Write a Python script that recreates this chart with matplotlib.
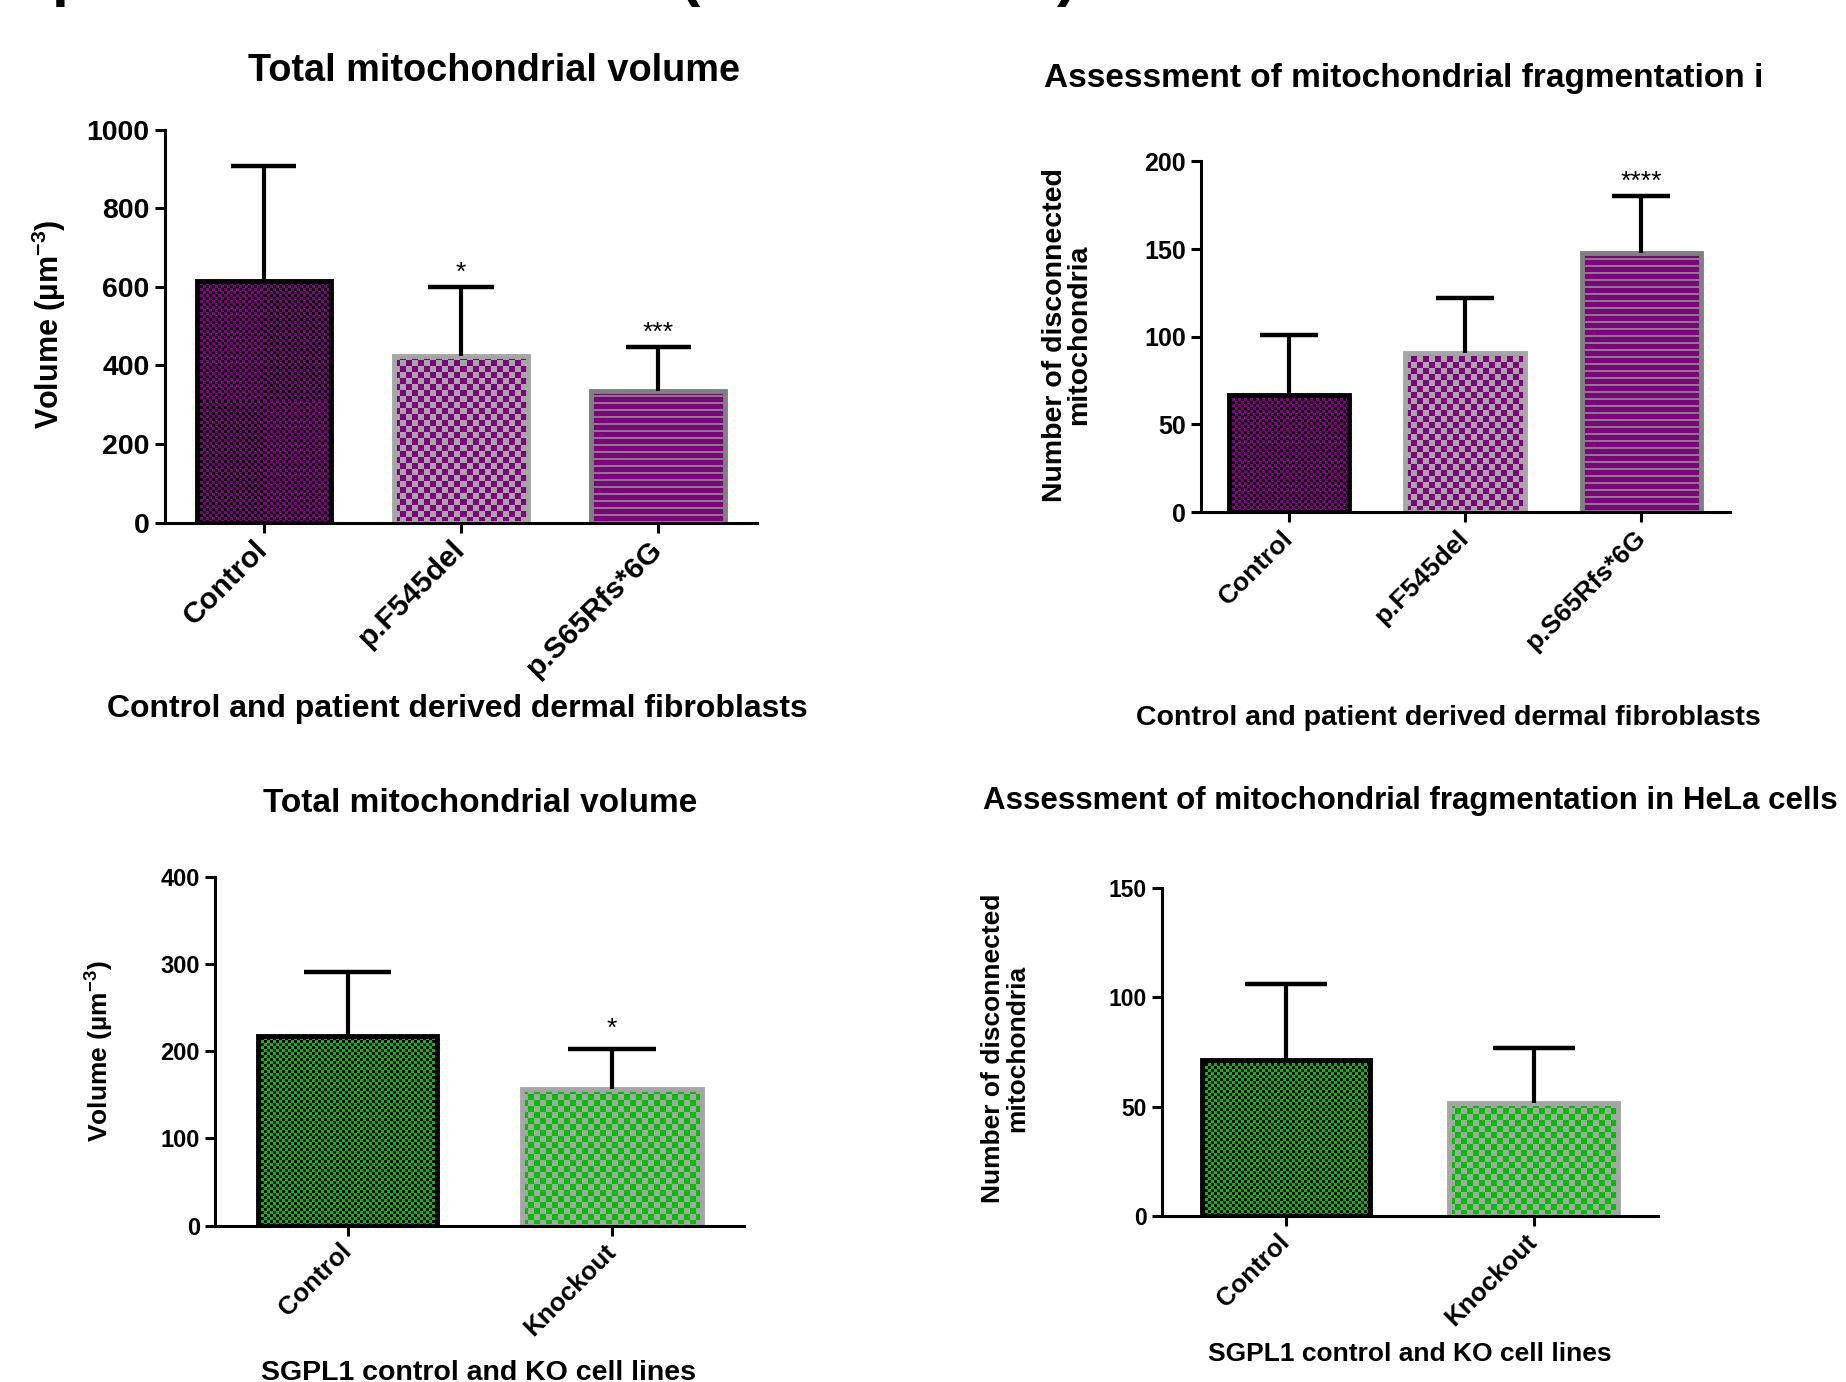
import numpy as np
import matplotlib
matplotlib.use('Agg')
import matplotlib.pyplot as plt
from matplotlib.colors import to_rgb

plt.rcParams['font.family'] = 'Liberation Sans'
plt.rcParams['font.weight'] = 'bold'
plt.rcParams['mathtext.fontset'] = 'custom'
plt.rcParams['mathtext.rm'] = 'Liberation Sans:bold'
plt.rcParams['mathtext.default'] = 'regular'

# fibroblasts: total volume
fib_groups = ['Control', 'p.F545del', 'p.S65Rfs*6G']
fib_vol_mean = [614, 425, 335]
fib_vol_sd = [293, 174, 111]
fib_vol_stars = ['', '*', '***']

# fibroblasts: disconnected mitochondria
fib_frag_mean = [67, 90.5, 148]
fib_frag_sd = [34, 31.5, 32]
fib_frag_stars = ['', '', '****']

# HeLa SGPL1 lines
hela_groups = ['Control', 'Knockout']
hela_vol_mean = [218, 157]
hela_vol_sd = [73, 46]
hela_vol_stars = ['', '*']
hela_frag_mean = [71.5, 51.5]
hela_frag_sd = [34.5, 25.5]
hela_frag_stars = ['', '']

W, H = 1846, 1382
PURPLE = '#800080'
GREEN = '#00c000'
LGRAY = '#a6a6a6'
DGRAY = '#808080'

# (pattern, colour 1, colour 2, cell px, edge colour)
fib_styles = [('checker', PURPLE, 'black', 3, 'black'),
              ('checker', PURPLE, LGRAY, 6, LGRAY),
              ('stripes', PURPLE, DGRAY, 7, DGRAY)]
hela_styles = [('checker', GREEN, 'black', 3, 'black'),
               ('checker', GREEN, LGRAY, 6, LGRAY)]


def rect(l, t, r, b):
    return [l / W, 1 - b / H, (r - l) / W, (b - t) / H]


def fill_bar(ax, bar, style):
    kind, c1, c2, cell, edge = style
    x0, y0 = bar.get_x(), bar.get_y()
    w, h = bar.get_width(), bar.get_height()
    p0 = ax.transData.transform((x0, y0))
    p1 = ax.transData.transform((x0 + w, y0 + h))
    nx = max(int(round(abs(p1[0] - p0[0]))), 1)
    ny = max(int(round(abs(p1[1] - p0[1]))), 1)
    jj, ii = np.meshgrid(np.arange(nx), np.arange(ny))
    if kind == 'checker':
        mask = ((ii // cell) + (jj // cell)) % 2 == 0
    else:
        mask = (ii % cell) >= 2
    img = np.where(mask[..., None], np.array(to_rgb(c1)), np.array(to_rgb(c2)))
    im = ax.imshow(img, extent=(x0, x0 + w, y0, y0 + h), origin='lower',
                   aspect='auto', interpolation='nearest', zorder=2)
    im.set_clip_path(bar)
    bar.set_edgecolor(edge)


def panel(box, groups, means, sds, stars, ymax, ystep, styles,
          ytick_fs, xtick_fs, star_off):
    ax = fig.add_axes(box)
    x = np.arange(len(groups))
    ax.set_xlim(-0.5, len(groups) - 0.5)
    ax.set_ylim(0, ymax)
    bars = ax.bar(x, means, width=0.68, facecolor='none', linewidth=3.5, zorder=3)
    for b, st in zip(bars, styles):
        fill_bar(ax, b, st)
    tops = np.add(means, sds)
    ax.vlines(x, means, tops, color='black', lw=3, zorder=4)
    ax.hlines(tops, x - 0.165, x + 0.165, color='black', lw=3.2, zorder=4)
    for xi, t, s in zip(x, tops, stars):
        if s:
            ax.annotate(s, (xi, t), xytext=(0, star_off), textcoords='offset points',
                        ha='center', va='bottom', fontsize=19, fontweight='normal')
    ax.set_xlim(-0.5, len(groups) - 0.5)
    ax.set_ylim(0, ymax)
    ax.set_yticks(np.arange(0, ymax + 1, ystep))
    ax.set_xticks(x)
    ax.set_xticklabels(groups, rotation=45, ha='right', va='center',
                       rotation_mode='anchor', fontsize=xtick_fs)
    ax.tick_params(axis='y', labelsize=ytick_fs, width=2.2, length=7, pad=4)
    ax.tick_params(axis='x', width=2.2, length=7, pad=9)
    for side in ['top', 'right']:
        ax.spines[side].set_visible(False)
    for side in ['left', 'bottom']:
        ax.spines[side].set_linewidth(2.2)
        ax.spines[side].set_zorder(5)
    return ax


def ftext(x, y, s, **kw):
    fig.text(x / W, 1 - y / H, s, **kw)


fig = plt.figure(figsize=(W / 100, H / 100), dpi=100)

panel(rect(165, 129.5, 757, 522.7), fib_groups, fib_vol_mean, fib_vol_sd,
      fib_vol_stars, 1000, 200, fib_styles, 20.5, 21.5, 2)
panel(rect(1201, 161.3, 1729.5, 512.1), fib_groups, fib_frag_mean, fib_frag_sd,
      fib_frag_stars, 200, 50, fib_styles, 18, 19, 2)
panel(rect(215.4, 877.1, 744.1, 1225.6), hela_groups, hela_vol_mean, hela_vol_sd,
      hela_vol_stars, 400, 100, hela_styles, 17, 18.5, 6)
panel(rect(1162, 887.7, 1657.6, 1216.2), hela_groups, hela_frag_mean, hela_frag_sd,
      hela_frag_stars, 150, 50, hela_styles, 16.5, 18.5, 6)

# titles
ftext(494, 71, 'Total mitochondrial volume', fontsize=27.3, ha='center', va='center')
ftext(1044, 79, 'Assessment of mitochondrial fragmentation i', fontsize=24,
      ha='left', va='center')
ftext(480, 804, 'Total mitochondrial volume', fontsize=24, ha='center', va='center')
ftext(1410, 801, 'Assessment of mitochondrial fragmentation in HeLa cells',
      fontsize=22.5, ha='center', va='center')

# x axis labels
ftext(457, 709, 'Control and patient derived dermal fibroblasts', fontsize=23,
      ha='center', va='center')
ftext(1448, 718, 'Control and patient derived dermal fibroblasts', fontsize=20.5,
      ha='center', va='center')
ftext(479, 1360, 'SGPL1 control and KO cell lines', fontsize=20.5,
      ha='center', va='top')
ftext(1410, 1354, 'SGPL1 control and KO cell lines', fontsize=19,
      ha='center', va='center')

# y axis labels
ftext(49, 324, r'Volume (µm$^{-3}$)', fontsize=22, rotation=90, ha='center', va='center')
ftext(1067, 335, 'Number of disconnected\nmitochondria', fontsize=20.5, rotation=90,
      ha='center', va='center', multialignment='center', linespacing=0.95)
ftext(100, 1051, r'Volume (µm$^{-3}$)', fontsize=19, rotation=90, ha='center', va='center')
ftext(1005, 1048, 'Number of disconnected\nmitochondria', fontsize=19, rotation=90,
      ha='center', va='center', multialignment='center', linespacing=1.0)

# heading above, cut off by the top edge
for xp, s in [(71, 'p'), (690, '('), (1067, ')')]:
    ftext(xp, -6, s, fontsize=44, ha='center', va='baseline')

fig.savefig('out.png', dpi=100)
